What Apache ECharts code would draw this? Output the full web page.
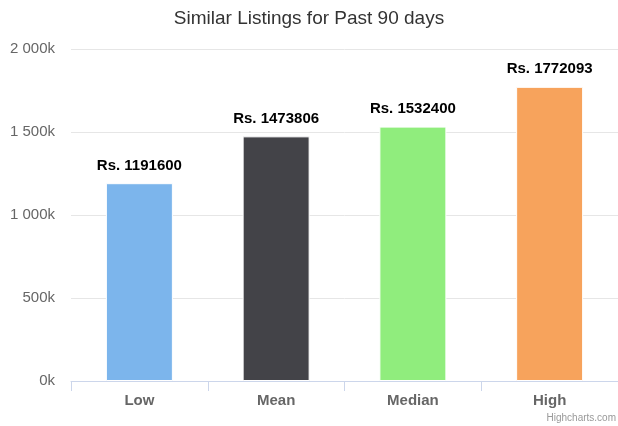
<!DOCTYPE html>
<html>
<head>
<meta charset="utf-8">
<script src="https://cdn.jsdelivr.net/npm/echarts@6/dist/echarts.min.js"></script>
<style>
  html, body { margin: 0; padding: 0; background: #fff; }
  #chart { width: 618px; height: 426px; }
</style>
</head>
<body>
<div id="chart"></div>
<script>
const categories = ['Low', 'Mean', 'Median', 'High']
const values = [1191600, 1473806, 1532400, 1772093]
const colors = ['#7cb5ec', '#434348', '#90ed7d', '#f7a35c']
const yTicks = [0, 500000, 1000000, 1500000, 2000000]

const FONT = '"Liberation Sans", Arial, Helvetica, sans-serif'

function kFormat(v) {
  const k = Math.round(v / 1000)
  return String(k).replace(/\B(?=(\d{3})+(?!\d))/g, ' ') + 'k'
}

const chart = echarts.init(document.getElementById('chart'), null, { renderer: 'canvas' })
chart.setOption({
  animation: false,
  title: {
    text: 'Similar Listings for Past 90 days',
    left: 'center', top: 4,
    textStyle: { color: '#333333', fontSize: 19, fontWeight: 'normal', fontFamily: FONT },
  },
  grid: { left: 71, right: 0, top: 49, bottom: 45 },
  xAxis: {
    type: 'category', data: categories,
    axisLine: { lineStyle: { color: '#ccd6eb' } },
    axisTick: { show: true, length: 10, lineStyle: { color: '#ccd6eb' } },
    axisLabel: { color: '#666666', fontSize: 15, fontWeight: 'bold', fontFamily: FONT, margin: 12 },
  },
  yAxis: {
    type: 'value', min: yTicks[0], max: yTicks[yTicks.length - 1], interval: 500000,
    axisLine: { show: false }, axisTick: { show: false },
    splitLine: { lineStyle: { color: '#e6e6e6' } },
    axisLabel: { color: '#666666', fontSize: 15, fontFamily: FONT, margin: 16, formatter: kFormat },
  },
  series: [{
    type: 'bar', barWidth: 67,
    data: values.map((v, i) => ({ value: v, itemStyle: { color: colors[i] } })),
    itemStyle: { borderColor: '#ffffff', borderWidth: 1 },
    label: {
      show: true, position: 'top', distance: 10,
      color: '#000000', fontSize: 15, fontWeight: 'bold', fontFamily: FONT,
      formatter: (p) => 'Rs. ' + p.value,
    },
  }],
  graphic: [{
    type: 'text', right: 2, bottom: 3,
    style: { text: 'Highcharts.com', fill: '#999999', fontSize: 10, fontFamily: FONT },
  }],
})
</script>
</body>
</html>
